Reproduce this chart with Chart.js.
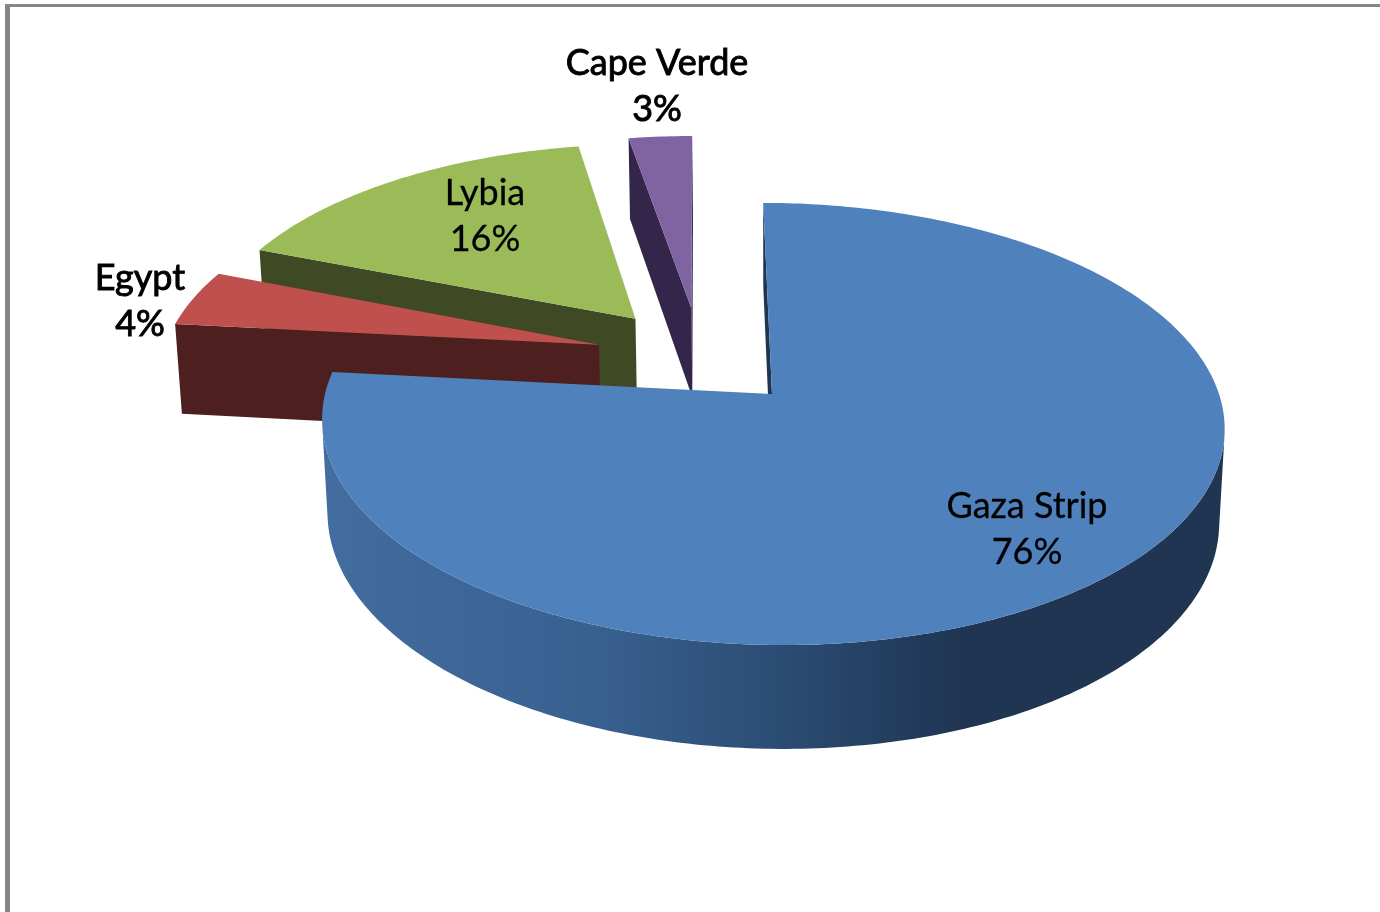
<!DOCTYPE html>
<html>
<head>
<meta charset="utf-8">
<style>
html,body{margin:0;padding:0;background:#fff;overflow:hidden}
#wrap{position:absolute;left:0;top:0;width:1380px;height:912px}
#frame{position:absolute;left:5px;top:4px;width:1375px;height:908px;border-left:5px solid #868686;border-top:3px solid #868686;box-sizing:border-box}
canvas{position:absolute;left:0;top:0}
</style>
<script src="https://cdn.jsdelivr.net/npm/chart.js@4"></script>
</head>
<body>
<div id="wrap"><div id="frame"></div><canvas id="c" width="1380" height="912"></canvas></div>
<script>
const categories = ['Gaza Strip', 'Egypt', 'Lybia', 'Cape Verde'];
const values = [76.4, 4.3, 16.3, 2.7];
const topColors = ['#4f81bd', '#c0504d', '#9bbb59', '#8064a2'];
const sideColors = ['#1f3552', '#4d1f1f', '#3f4a24', '#33264a'];
const rimStops = [[330,'#436c9f'],[600,'#38608f'],[800,'#2a4a70'],[960,'#1f3552']];
const labelCentres = [[1027,506],[140,278],[485,193],[657,63]];
const labelWeights = [0.3, 0.9, 0.3, 0.9];
const labelGap = 46;
const FONT = '36px Lato, "Open Sans", sans-serif';

// Oblique 3-D view of the exploded pie
const view = {ox:772, oy:394, L:447, S:10, K:217, H:94, p:0.1357, q:0.012, explode:0.24};
function project(X, Z, Y){
  const w = 1 - view.p*Z + view.q*Y;
  return [view.ox + (view.L*X + view.S*Z)/w, view.oy + (view.K*Z + view.H*Y)/w];
}
function area(pts){
  let s = 0;
  for(let i=0;i<pts.length;i++){const a=pts[i],b=pts[(i+1)%pts.length];s+=a[0]*b[1]-b[0]*a[1];}
  return s/2;
}
function fillPoly(ctx, pts, fill){
  ctx.beginPath();
  pts.forEach((p,i)=> i?ctx.lineTo(p[0],p[1]):ctx.moveTo(p[0],p[1]));
  ctx.closePath();
  ctx.fillStyle = fill;
  ctx.fill();
}

const pie3d = {
  id:'pie3d',
  beforeDatasetDraw(chart){
    const ctx = chart.ctx, arcs = chart.getDatasetMeta(0).data;
    const bis = arcs.map(a => (a.startAngle + a.endAngle)/2 + Math.PI/2);
    const ref = [Math.sin(bis[0]), -Math.cos(bis[0])];
    const slices = arcs.map((a,i)=>({
      i, a0:a.startAngle+Math.PI/2, a1:a.endAngle+Math.PI/2,
      cx:view.explode*(Math.sin(bis[i])-ref[0]),
      cz:view.explode*(-Math.cos(bis[i])-ref[1])
    })).sort((s,t)=>s.cz-t.cz);

    ctx.save();
    for(const s of slices){
      const n = Math.max(6, Math.ceil((s.a1-s.a0)/0.015));
      const world = [];
      for(let k=0;k<=n;k++){
        const th = s.a0 + (s.a1-s.a0)*k/n;
        world.push([s.cx+Math.sin(th), s.cz-Math.cos(th)]);
      }
      const top = world.map(w=>project(w[0],w[1],0));
      const bot = world.map(w=>project(w[0],w[1],1));
      const apexT = project(s.cx,s.cz,0), apexB = project(s.cx,s.cz,1);

      // straight cut faces
      const cut1 = [apexT, top[0], bot[0], apexB];
      const cut2 = [top[n], apexT, apexB, bot[n]];
      if(area(cut1)<0) fillPoly(ctx, cut1, sideColors[s.i]);
      if(area(cut2)<0) fillPoly(ctx, cut2, sideColors[s.i]);

      // outer rim, front facing runs only
      let fill = sideColors[s.i];
      if(s.i===0){
        fill = ctx.createLinearGradient(rimStops[0][0],0,rimStops[rimStops.length-1][0],0);
        rimStops.forEach(r=>fill.addColorStop((r[0]-rimStops[0][0])/(rimStops[rimStops.length-1][0]-rimStops[0][0]), r[1]));
      }
      let run = null;
      const flush = ()=>{ if(run){
        const last = run[1];
        const poly = [];
        for(let k=run[0];k<=last;k++) poly.push(top[k]);
        for(let k=last;k>=run[0];k--) poly.push(bot[k]);
        fillPoly(ctx, poly, fill);
        run = null;
      }};
      for(let k=0;k<n;k++){
        const f = area([top[k],top[k+1],bot[k+1],bot[k]])<0;
        if(f){ if(run) run[1]=k+1; else run=[k,k+1]; } else flush();
      }
      flush();

      // top face
      fillPoly(ctx, [apexT].concat(top), topColors[s.i]);
    }
    ctx.restore();
    return false;
  },
  afterDatasetsDraw(chart){
    const ctx = chart.ctx;
    ctx.save();
    ctx.font = FONT;
    ctx.fillStyle = '#000';
    ctx.strokeStyle = '#000';
    ctx.textAlign = 'center';
    ctx.textBaseline = 'middle';
    categories.forEach((c,i)=>{
      ctx.lineWidth = labelWeights[i];
      [[c,0],[Math.round(values[i])+'%',labelGap]].forEach(([t,dy])=>{
        ctx.fillText(t, labelCentres[i][0], labelCentres[i][1]+dy);
        ctx.strokeText(t, labelCentres[i][0], labelCentres[i][1]+dy);
      });
    });
    ctx.restore();
  }
};

new Chart(document.getElementById('c'), {
  type:'pie',
  data:{labels:categories, datasets:[{data:values, backgroundColor:topColors, borderWidth:0}]},
  options:{
    responsive:false, animation:false,
    layout:{padding:0},
    plugins:{legend:{display:false}, tooltip:{enabled:false}}
  },
  plugins:[pie3d]
});
</script>
</body>
</html>
